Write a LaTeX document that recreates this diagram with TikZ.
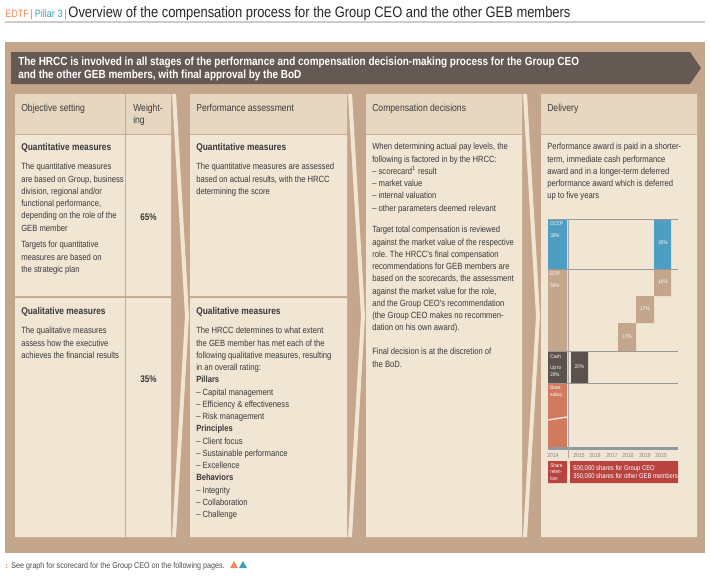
\documentclass[tikz,border=0pt]{standalone}
\usepackage{fontspec}
\setmainfont{Liberation Sans}[FakeStretch=0.85]
\definecolor{panel}{HTML}{C4A68C}
\definecolor{banner}{HTML}{655A53}
\definecolor{headfill}{HTML}{E8D7C0}
\definecolor{bodyfill}{HTML}{F1E5D3}
\definecolor{txtgray}{HTML}{3A3A3A}
\definecolor{dccp}{HTML}{4E9EC3}
\definecolor{cash}{HTML}{5B524D}
\definecolor{base}{HTML}{D27A5E}
\definecolor{retain}{HTML}{B8433F}
\definecolor{axis}{HTML}{8F99A4}
\definecolor{edtf}{HTML}{F08A5D}
\definecolor{pillar}{HTML}{3A9FB3}
\newcommand\bodyfont{\fontsize{6.75}{9.2}\selectfont}
\newcommand\minifont{\fontsize{4}{5}\selectfont}
\begin{document}
\begin{tikzpicture}[x=0.75pt, y=-0.75pt,
    txt/.style={anchor=north west, inner sep=0pt, align=left, font=\bodyfont, text=txtgray},
    hd/.style={txt, font=\fontsize{7.6}{9.2}\selectfont},
    sub/.style={txt, font=\fontsize{7.4}{9.2}\selectfont\bfseries},
    pct/.style={inner sep=0pt, font=\fontsize{7.2}{9}\selectfont\bfseries, text=txtgray},
    lbl/.style={anchor=north west, inner sep=0pt, align=left, font=\minifont, text=white},
    yr/.style={inner sep=0pt, font=\fontsize{4.4}{5}\selectfont, text=gray}]
  \useasboundingbox (0,0) rectangle (710,575);
  % title
  \node (title) [anchor=base west, inner sep=0pt] at (5,17)
    {\fontsize{8}{9}\selectfont\color{edtf}EDTF\color{pillar}\,|\,Pillar 3\,|\,%
     \fontsize{11.4}{13}\selectfont\color{black!85}Overview of the compensation process for the Group CEO and the other GEB members};
  \draw[black!20, line width=0.8] (5,22) -- (705,22);
  % panel and banner
  \fill[panel] (5,42) rectangle (705,553);
  \fill[banner] (11,52) -- (690,52) -- (701,68) -- (690,84) -- (11,84) -- cycle;
  \node (hrcc) [txt, text=white, font=\fontsize{8.8}{9.2}\selectfont\bfseries] at (18,57)
    {The HRCC is involved in all stages of the performance and compensation decision-making process for the Group CEO\\
     and the other GEB members, with final approval by the BoD};
  % columns
  \fill[headfill] (15,94) rectangle (125,134) (126,94) rectangle (171,134)
                  (190,94) rectangle (347,134) (366,94) rectangle (522,134)
                  (541,94) rectangle (697,134);
  \fill[bodyfill] (15,135) rectangle (125,296) (126,135) rectangle (171,296)
                  (190,135) rectangle (347,296)
                  (15,298) rectangle (125,537) (126,298) rectangle (171,537)
                  (190,298) rectangle (347,537)
                  (366,135) rectangle (522,537) (541,135) rectangle (697,537);
  % chevrons
  \foreach \cx in {172,348,523}
    \fill[bodyfill] (\cx,94) -- (\cx+4,94) -- (\cx+17,316) -- (\cx+4,537) -- (\cx,537) -- (\cx+13,316) -- cycle;
  % headers
  \node (objhd) [hd] at (21,104) {Objective setting};
  \node (wghd) [hd] at (133,104) {Weight-\\ing};
  \node (perfhd) [hd] at (196,104) {Performance assessment};
  \node (comphd) [hd] at (372,104) {Compensation decisions};
  \node (delhd) [hd] at (547,104) {Delivery};
  % objective setting
  \node (objqn) [sub] at (21,143) {Quantitative measures};
  \node (objqntxt) [txt] at (21,163) {The quantitative measures\\are based on Group, business\\division, regional and/or\\functional performance,\\depending on the role of the\\GEB member};
  \node (objtgt) [txt] at (21,241) {Targets for quantitative\\measures are based on\\the strategic plan};
  \node (objql) [sub] at (21,307) {Qualitative measures};
  \node (objqltxt) [txt] at (21,327) {The qualitative measures\\assess how the executive\\achieves the financial results};
  \node (wqn) [pct] at (148.5,217) {65\%};
  \node (wql) [pct] at (148.5,379) {35\%};
  % performance assessment
  \node (perfqn) [sub] at (196,143) {Quantitative measures};
  \node (perfqntxt) [txt] at (196,163) {The quantitative measures are assessed\\based on actual results, with the HRCC\\determining the score};
  \node (perfql) [sub] at (196,307) {Qualitative measures};
  \node (perfqltxt) [txt] at (196,327) {The HRCC determines to what extent\\the GEB member has met each of the\\following qualitative measures, resulting\\in an overall rating:\\
    \textbf{Pillars}\\– Capital management\\– Efficiency \& effectiveness\\– Risk management\\
    \textbf{Principles}\\– Client focus\\– Sustainable performance\\– Excellence\\
    \textbf{Behaviors}\\– Integrity\\– Collaboration\\– Challenge};
  % compensation decisions
  \node (compa) [txt] at (372,143) {When determining actual pay levels, the\\following is factored in by the HRCC:\\– scorecard\textsuperscript{1} result\\– market value\\– internal valuation\\– other parameters deemed relevant};
  \node (compb) [txt] at (372,226) {Target total compensation is reviewed\\against the market value of the respective\\role. The HRCC’s final compensation\\recommendations for GEB members are\\based on the scorecards, the assessment\\against the market value for the role,\\and the Group CEO’s recommendation\\(the Group CEO makes no recommen-\\dation on his own award).};
  \node (compc) [txt] at (372,348) {Final decision is at the discretion of\\the BoD.};
  % delivery
  \node (deltxt) [txt] at (547,143) {Performance award is paid in a shorter-\\term, immediate cash performance\\award and in a longer-term deferred\\performance award which is deferred\\up to five years};
  % delivery chart
  \fill[dccp] (548,219) rectangle (567,269) (654,219) rectangle (671,269);
  \fill[panel] (548,269) rectangle (567,351) (654,269) rectangle (671,296)
               (636,296) rectangle (654,323) (618,323) rectangle (636,351);
  \fill[cash] (548,351) rectangle (567,383) (571,351) rectangle (588,383);
  \fill[base] (548,383) rectangle (567,447);
  \draw[white!85!base, line width=1] (548,420) -- (567,417);
  \fill[axis] (548,447) rectangle (678,450);
  \draw[black!40, line width=0.5] (548,219) -- (678,219) (548,269) -- (678,269)
                                   (548,351) -- (678,351) (548,383) -- (678,383);
  \draw[black!35, line width=0.6] (568,219) -- (568,458);
  \node (dccplbl) [lbl] at (550,222) {DCCP};
  \node (dccpval) [lbl] at (550,234) {30\%};
  \node (dccpend) [lbl, anchor=center] at (663,243) {30\%};
  \node (eoplbl) [lbl] at (550,272) {EOP};
  \node (eopval) [lbl] at (550,284) {50\%};
  \node (eop3) [lbl, anchor=center] at (663,282) {16\%};
  \node (eop2) [lbl, anchor=center] at (645,309) {17\%};
  \node (eop1) [lbl, anchor=center] at (627,337) {17\%};
  \node (cashlbl) [lbl] at (550,354) {Cash};
  \node (cashval) [lbl] at (550,366) {Up to\\20\%};
  \node (cashpay) [lbl, anchor=center] at (579.5,367) {20\%};
  \node (baselbl) [lbl] at (550,386) {Base\\salary};
  \foreach \yx/\yl in {553/2014,579/2015,595/2016,612/2017,628/2018,645/2019,661/2020}
    \node (y\yl) [yr] at (\yx,455) {\yl};
  \fill[retain] (548,461) rectangle (567,483) (570,461) rectangle (678,483);
  \node (retlbl) [lbl] at (550,463) {Share\\reten-\\tion};
  \node (retval) [lbl, font=\fontsize{5.2}{6.4}\selectfont] at (573,465) {500,000 shares for Group CEO\\350,000 shares for other GEB members};
  % footnote
  \node (fnote) [anchor=base west, inner sep=0pt, font=\fontsize{6.3}{7}\selectfont, text=black!70] at (5,568)
    {{\color{edtf}\fontsize{4.5}{5}\selectfont 1}\, See graph for scorecard for the Group CEO on the following pages.};
  \coordinate (tri) at (230,568);
  \fill[edtf] (tri) -- ++(8,0) -- ++(-4,-7) -- cycle;
  \fill[pillar] ([xshift=6.75pt]tri) -- ++(8,0) -- ++(-4,-7) -- cycle;
\end{tikzpicture}
\end{document}
